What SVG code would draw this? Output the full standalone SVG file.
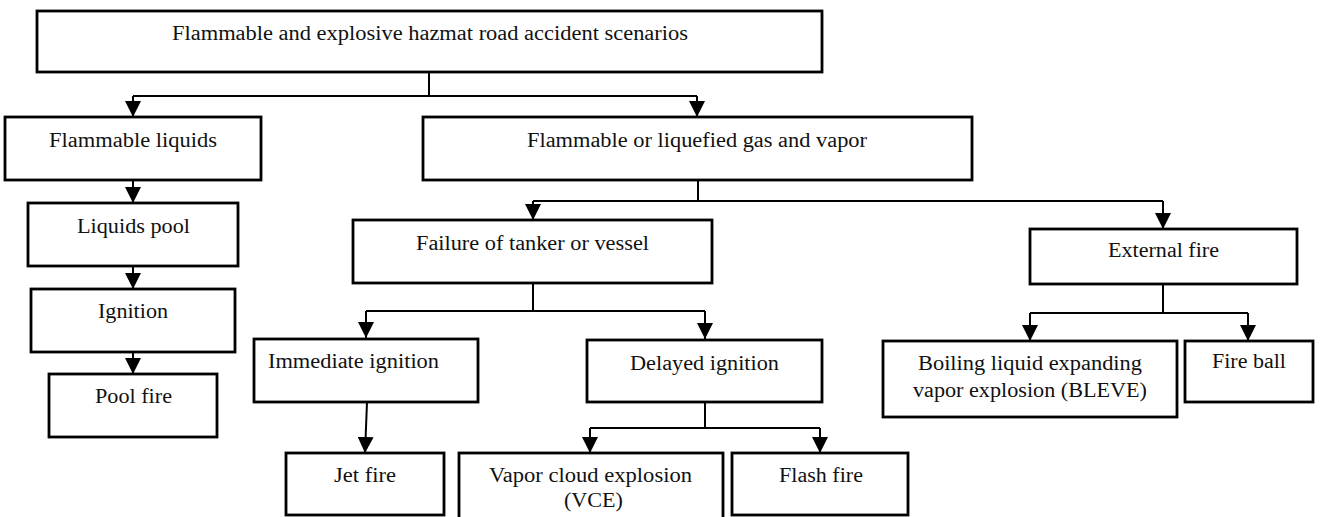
<svg xmlns="http://www.w3.org/2000/svg" width="1323" height="517" viewBox="0 0 1323 517">
<style>
.box{fill:#fff;stroke:#000;stroke-width:2.8}
.t{font-family:"Liberation Serif","Times New Roman",serif;font-size:20px;fill:#111;text-anchor:middle}
.c{fill:none;stroke:#000;stroke-width:2}
</style>
<defs>
<marker id="ah" markerUnits="userSpaceOnUse" markerWidth="16" markerHeight="16" viewBox="0 0 16 16" refX="16" refY="8" orient="auto">
<path d="M0,0 L16,8 L0,16 Z" fill="#000"/>
</marker>
</defs>
<rect width="1323" height="517" fill="#fff"/>
<g id="connectors">
<path class="c" d="M429,72 V96 M133,96 H697" />
<path class="c" d="M133,96 V117" marker-end="url(#ah)"/>
<path class="c" d="M697,96 V117" marker-end="url(#ah)"/>
<path class="c" d="M133,180 V203" marker-end="url(#ah)"/>
<path class="c" d="M133,266 V289" marker-end="url(#ah)"/>
<path class="c" d="M133,352 V374" marker-end="url(#ah)"/>
<path class="c" d="M698,180 V201 M533,201 H1163"/>
<path class="c" d="M533,201 V220" marker-end="url(#ah)"/>
<path class="c" d="M1163,201 V229" marker-end="url(#ah)"/>
<path class="c" d="M533,283 V311 M366,311 H705"/>
<path class="c" d="M366,311 V338" marker-end="url(#ah)"/>
<path class="c" d="M705,311 V339" marker-end="url(#ah)"/>
<path class="c" d="M367,402 L365,453" marker-end="url(#ah)"/>
<path class="c" d="M705,402 V428 M590,428 H820"/>
<path class="c" d="M590,428 V453" marker-end="url(#ah)"/>
<path class="c" d="M820,428 V453" marker-end="url(#ah)"/>
<path class="c" d="M1163,284 V313 M1030,313 H1248"/>
<path class="c" d="M1030,313 V341" marker-end="url(#ah)"/>
<path class="c" d="M1248,313 V341" marker-end="url(#ah)"/>
</g>
<g id="top"><rect class="box" x="37" y="11" width="785" height="61"/><text class="t" x="430" y="40" textLength="516" lengthAdjust="spacingAndGlyphs">Flammable and explosive hazmat road accident scenarios</text></g>
<g id="liquids"><rect class="box" x="5" y="117" width="256" height="63"/><text class="t" x="133" y="147" textLength="168" lengthAdjust="spacingAndGlyphs">Flammable liquids</text></g>
<g id="gas"><rect class="box" x="423" y="117" width="549" height="63"/><text class="t" x="697" y="147" textLength="340" lengthAdjust="spacingAndGlyphs">Flammable or liquefied gas and vapor</text></g>
<g id="pool"><rect class="box" x="28" y="203" width="210" height="63"/><text class="t" x="133.5" y="233" textLength="113" lengthAdjust="spacingAndGlyphs">Liquids pool</text></g>
<g id="ignition"><rect class="box" x="31" y="289" width="204" height="63"/><text class="t" x="133" y="318" textLength="70" lengthAdjust="spacingAndGlyphs">Ignition</text></g>
<g id="poolfire"><rect class="box" x="49" y="374" width="168" height="63"/><text class="t" x="133.5" y="403" textLength="77" lengthAdjust="spacingAndGlyphs">Pool fire</text></g>
<g id="failure"><rect class="box" x="353" y="220" width="359" height="63"/><text class="t" x="532.5" y="250" textLength="233" lengthAdjust="spacingAndGlyphs">Failure of tanker or vessel</text></g>
<g id="external"><rect class="box" x="1030" y="229" width="267" height="55"/><text class="t" x="1163.5" y="257" textLength="111" lengthAdjust="spacingAndGlyphs">External fire</text></g>
<g id="immediate"><rect class="box" x="254" y="339" width="224" height="63"/><text class="t" x="353.5" y="368" textLength="171" lengthAdjust="spacingAndGlyphs">Immediate ignition</text></g>
<g id="delayed"><rect class="box" x="587" y="340" width="235" height="62"/><text class="t" x="704.5" y="370" textLength="149" lengthAdjust="spacingAndGlyphs">Delayed ignition</text></g>
<g id="bleve"><rect class="box" x="883" y="341" width="294" height="76"/><text class="t" x="1030" y="370" textLength="224" lengthAdjust="spacingAndGlyphs">Boiling liquid expanding</text><text class="t" x="1030" y="397" textLength="234" lengthAdjust="spacingAndGlyphs">vapor explosion (BLEVE)</text></g>
<g id="fireball"><rect class="box" x="1185" y="341" width="128" height="61"/><text class="t" x="1249" y="368" textLength="74" lengthAdjust="spacingAndGlyphs">Fire ball</text></g>
<g id="jetfire"><rect class="box" x="286" y="453" width="158" height="62"/><text class="t" x="365" y="482" textLength="62" lengthAdjust="spacingAndGlyphs">Jet fire</text></g>
<g id="vce"><rect class="box" x="459" y="453" width="264" height="72"/><text class="t" x="590.5" y="482" textLength="203" lengthAdjust="spacingAndGlyphs">Vapor cloud explosion</text><text class="t" x="593.5" y="507" textLength="59" lengthAdjust="spacingAndGlyphs">(VCE)</text></g>
<g id="flashfire"><rect class="box" x="732" y="453" width="176" height="62"/><text class="t" x="821" y="482" textLength="84" lengthAdjust="spacingAndGlyphs">Flash fire</text></g>
</svg>
